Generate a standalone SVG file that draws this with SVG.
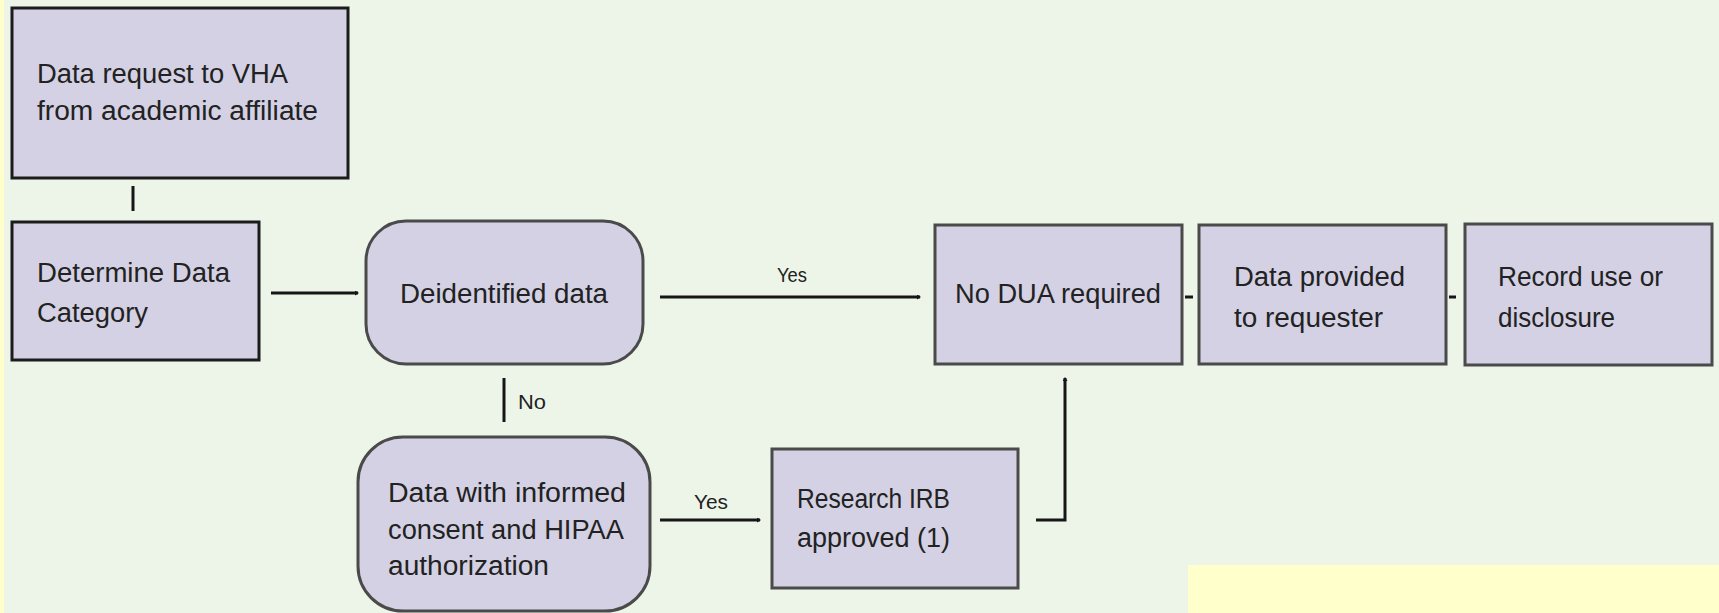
<svg xmlns="http://www.w3.org/2000/svg" width="1719" height="613" viewBox="0 0 1719 613">
<style>
.bg{fill:#edf5e9}
.yel{fill:#ffffcc}
.box{fill:#d3d1e3;stroke:#4a4a4a;stroke-width:3}
.dark{stroke:#1c1c1c}
.t{font-family:"Liberation Sans",Arial,sans-serif;font-size:27px;fill:#222222}
.lbl{font-family:"Liberation Sans",Arial,sans-serif;font-size:20px;fill:#222222}
.c{fill:none;stroke:#161616;stroke-width:3}
</style>
<defs>
<marker id="ah" markerWidth="4" markerHeight="5" refX="3" refY="2.5" orient="auto" markerUnits="userSpaceOnUse">
<path d="M0,0 L4,2.5 L0,5 z" fill="#161616"/>
</marker>
</defs>
<rect class="bg" x="0" y="0" width="1719" height="613"/>
<rect class="yel" x="0" y="0" width="4" height="613"/>
<rect class="yel" x="1188" y="565" width="531" height="48"/>

<g id="connectors">
<line class="c" x1="133" y1="186" x2="133" y2="211"/>
<line class="c" x1="271" y1="293" x2="358" y2="293" marker-end="url(#ah)"/>
<line class="c" x1="660" y1="297" x2="920" y2="297" marker-end="url(#ah)"/>
<line class="c" x1="1185" y1="297" x2="1193" y2="297"/>
<line class="c" x1="1449" y1="297" x2="1456" y2="297"/>
<line class="c" x1="504" y1="378" x2="504" y2="422"/>
<line class="c" x1="660" y1="520" x2="760" y2="520" marker-end="url(#ah)"/>
<polyline class="c" points="1036,520 1065,520 1065,378" marker-end="url(#ah)"/>
<text class="lbl" x="777" y="282" textLength="30" lengthAdjust="spacingAndGlyphs">Yes</text>
<text class="lbl" x="518" y="409" textLength="28" lengthAdjust="spacingAndGlyphs">No</text>
<text class="lbl" x="694" y="509" textLength="34" lengthAdjust="spacingAndGlyphs">Yes</text>
</g>

<g id="node-request">
<rect class="box dark" x="12" y="8" width="336" height="170"/>
<text class="t" x="37" y="83" textLength="251" lengthAdjust="spacingAndGlyphs">Data request to VHA</text>
<text class="t" x="37" y="120" textLength="281" lengthAdjust="spacingAndGlyphs">from academic affiliate</text>
</g>

<g id="node-determine">
<rect class="box dark" x="12" y="222" width="247" height="138"/>
<text class="t" x="37" y="282" textLength="193" lengthAdjust="spacingAndGlyphs">Determine Data</text>
<text class="t" x="37" y="322" textLength="111" lengthAdjust="spacingAndGlyphs">Category</text>
</g>

<g id="node-deidentified">
<rect class="box" x="366" y="221" width="277" height="143" rx="40" ry="40"/>
<text class="t" x="400" y="303" textLength="208" lengthAdjust="spacingAndGlyphs">Deidentified data</text>
</g>

<g id="node-nodua">
<rect class="box" x="935" y="225" width="247" height="139"/>
<text class="t" x="955" y="303" textLength="206" lengthAdjust="spacingAndGlyphs">No DUA required</text>
</g>

<g id="node-provided">
<rect class="box" x="1199" y="225" width="247" height="139"/>
<text class="t" x="1234" y="286" textLength="171" lengthAdjust="spacingAndGlyphs">Data provided</text>
<text class="t" x="1234" y="327" textLength="149" lengthAdjust="spacingAndGlyphs">to requester</text>
</g>

<g id="node-record">
<rect class="box" x="1465" y="224" width="247" height="141"/>
<text class="t" x="1498" y="286" textLength="165" lengthAdjust="spacingAndGlyphs">Record use or</text>
<text class="t" x="1498" y="327" textLength="117" lengthAdjust="spacingAndGlyphs">disclosure</text>
</g>

<g id="node-consent">
<rect class="box" x="358" y="437" width="292" height="174" rx="45" ry="45" stroke="#2a2a2a"/>
<text class="t" x="388" y="502" textLength="238" lengthAdjust="spacingAndGlyphs">Data with informed</text>
<text class="t" x="388" y="539" textLength="236" lengthAdjust="spacingAndGlyphs">consent and HIPAA</text>
<text class="t" x="388" y="575" textLength="161" lengthAdjust="spacingAndGlyphs">authorization</text>
</g>

<g id="node-irb">
<rect class="box" x="772" y="449" width="246" height="139"/>
<text class="t" x="797" y="508" textLength="153" lengthAdjust="spacingAndGlyphs">Research IRB</text>
<text class="t" x="797" y="547" textLength="153" lengthAdjust="spacingAndGlyphs">approved (1)</text>
</g>
</svg>
